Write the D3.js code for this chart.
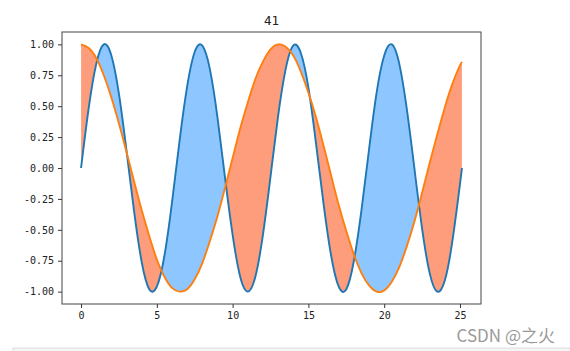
<!DOCTYPE html>
<html>
<head>
<meta charset="utf-8">
<script src="https://cdn.jsdelivr.net/npm/d3@7"></script>
<style>
  body { margin: 0; background: #fff; }
  .tick text { font-family: 'DejaVu Sans Mono', monospace; font-size: 10px; fill: #222; }
</style>
</head>
<body>
<div id="grafico"></div>
<script>
// x positions (sampled every 0.5, last one at the end of the curve)
const xs = [0, 0.5, 1, 1.5, 2, 2.5, 3, 3.5, 4, 4.5, 5, 5.5, 6, 6.5, 7, 7.5, 8, 8.5, 9, 9.5,
  10, 10.5, 11, 11.5, 12, 12.5, 13, 13.5, 14, 14.5, 15, 15.5, 16, 16.5, 17, 17.5, 18, 18.5, 19, 19.5,
  20, 20.5, 21, 21.5, 22, 22.5, 23, 23.5, 24, 24.5, 25, 25.13];

// blue series
const serieAzul = [0.00, 0.48, 0.84, 1.00, 0.91, 0.60, 0.14, -0.35, -0.76, -0.98, -0.96, -0.71, -0.28, 0.22, 0.66, 0.94, 0.99, 0.80, 0.41, -0.08,
  -0.54, -0.88, -1.00, -0.88, -0.54, -0.07, 0.42, 0.80, 0.99, 0.93, 0.65, 0.20, -0.29, -0.71, -0.96, -0.98, -0.75, -0.34, 0.15, 0.61,
  0.91, 1.00, 0.84, 0.47, -0.01, -0.49, -0.85, -1.00, -0.91, -0.59, -0.13, 0.00];

// orange series
const serieLaranja = [1.00, 0.97, 0.89, 0.75, 0.57, 0.36, 0.13, -0.11, -0.34, -0.55, -0.74, -0.88, -0.97, -1.00, -0.98, -0.90, -0.77, -0.59, -0.39, -0.16,
  0.08, 0.32, 0.53, 0.72, 0.86, 0.96, 1.00, 0.98, 0.91, 0.78, 0.61, 0.41, 0.18, -0.06, -0.30, -0.51, -0.70, -0.85, -0.95, -1.00,
  -0.99, -0.92, -0.80, -0.63, -0.43, -0.20, 0.04, 0.27, 0.49, 0.68, 0.83, 0.85];

// ticks
const xTicks = [0, 5, 10, 15, 20, 25];
const yTicks = [-1, -0.75, -0.5, -0.25, 0, 0.25, 0.5, 0.75, 1];
const yTickLabels = ['-1.00', '-0.75', '-0.50', '-0.25', '0.00', '0.25', '0.50', '0.75', '1.00'];

const titulo = '41';

function criarGrafico() {
  const largura = 570;
  const altura = 351;
  const margem = { top: 32, right: 89, bottom: 47, left: 62 };
  const w = largura - margem.left - margem.right;
  const h = altura - margem.top - margem.bottom;

  const raiz = d3.select('#grafico')
    .append('svg')
    .attr('width', largura)
    .attr('height', altura);

  const svg = raiz.append('g')
    .attr('transform', `translate(${margem.left},${margem.top})`);

  const dados = xs.map((x, i) => ({ x: x, a: serieAzul[i], b: serieLaranja[i] }));

  // 5% margins like matplotlib
  const xMin = d3.min(xs), xMax = d3.max(xs);
  const pad = (xMax - xMin) * 0.05;
  const x = d3.scaleLinear().domain([xMin - pad, xMax + pad]).range([0, w]);
  const y = d3.scaleLinear().domain([-1.1, 1.1]).range([h, 0]);

  const curva = d3.curveNatural;

  // clip regions above / below the orange curve
  const defs = svg.append('defs');
  defs.append('clipPath').attr('id', 'acima')
    .append('path')
    .attr('d', d3.area().curve(curva).x(d => x(d.x)).y0(0).y1(d => y(d.b))(dados));
  defs.append('clipPath').attr('id', 'abaixo')
    .append('path')
    .attr('d', d3.area().curve(curva).x(d => x(d.x)).y0(h).y1(d => y(d.b))(dados));

  const entre = d3.area().curve(curva)
    .x(d => x(d.x))
    .y0(d => y(d.b))
    .y1(d => y(d.a));

  svg.append('path')
    .datum(dados)
    .attr('clip-path', 'url(#acima)')
    .attr('fill', '#8ec7ff')
    .attr('d', entre);

  svg.append('path')
    .datum(dados)
    .attr('clip-path', 'url(#abaixo)')
    .attr('fill', '#fd9d7b')
    .attr('d', entre);

  // lines
  const linhaAzul = d3.line().curve(curva).x(d => x(d.x)).y(d => y(d.a));
  const linhaLaranja = d3.line().curve(curva).x(d => x(d.x)).y(d => y(d.b));

  svg.append('path')
    .datum(dados)
    .attr('fill', 'none')
    .attr('stroke', '#1f77b4')
    .attr('stroke-width', 1.9)
    .attr('d', linhaAzul);

  svg.append('path')
    .datum(dados)
    .attr('fill', 'none')
    .attr('stroke', '#ff7f0e')
    .attr('stroke-width', 1.9)
    .attr('d', linhaLaranja);

  // axes
  const eixoX = svg.append('g')
    .attr('transform', `translate(0,${h})`)
    .call(d3.axisBottom(x).tickValues(xTicks).tickSize(4).tickPadding(4).tickSizeOuter(0));

  const eixoY = svg.append('g')
    .call(d3.axisLeft(y).tickValues(yTicks).tickSize(4).tickPadding(4).tickSizeOuter(0)
      .tickFormat((d, i) => yTickLabels[i]));

  [eixoX, eixoY].forEach(g => {
    g.select('.domain').remove();
    g.selectAll('.tick line').attr('stroke', '#333');
  });

  // frame
  svg.append('rect')
    .attr('x', 0)
    .attr('y', 0)
    .attr('width', w)
    .attr('height', h)
    .attr('fill', 'none')
    .attr('stroke', '#444')
    .attr('stroke-width', 1);

  // title
  svg.append('text')
    .attr('x', w / 2)
    .attr('y', -7)
    .attr('text-anchor', 'middle')
    .style('font-family', "'DejaVu Sans Mono', monospace")
    .style('font-size', '12.5px')
    .style('fill', '#222')
    .text(titulo);

  // page decoration below
  raiz.append('rect')
    .attr('x', 13)
    .attr('y', 348)
    .attr('width', largura - 13)
    .attr('height', 4)
    .attr('fill', '#f5f5f5')
    .attr('stroke', '#dedede');

  raiz.append('text')
    .attr('x', 555)
    .attr('y', 342)
    .attr('text-anchor', 'end')
    .style('font-family', "'Noto Sans CJK SC', sans-serif")
    .style('font-size', '17px')
    .style('fill', '#9a9a9a')
    .text('CSDN @之火');
}

criarGrafico();
</script>
</body>
</html>
